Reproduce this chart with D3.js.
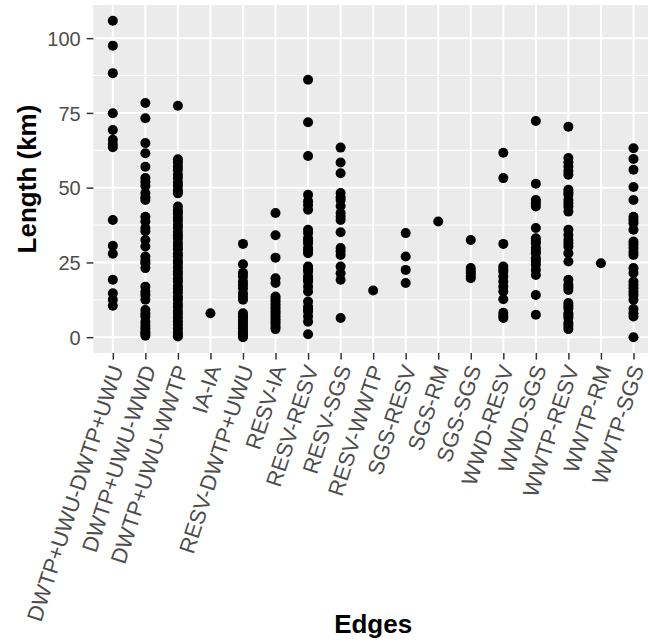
<!DOCTYPE html>
<html>
<head>
<meta charset="utf-8">
<script src="https://cdn.jsdelivr.net/npm/d3@7"></script>
<style>
  body { margin: 0; background: #fff; }
  svg { display: block; }
</style>
</head>
<body>
<div id="strip-chart"></div>
<script>
// Edge categories along the x axis
const edges = [
  "DWTP+UWU-DWTP+UWU", "DWTP+UWU-WWD", "DWTP+UWU-WWTP", "IA-IA",
  "RESV-DWTP+UWU", "RESV-IA", "RESV-RESV", "RESV-SGS", "RESV-WWTP",
  "SGS-RESV", "SGS-RM", "SGS-SGS", "WWD-RESV", "WWD-SGS",
  "WWTP-RESV", "WWTP-RM", "WWTP-SGS",
];

// Lengths (km), one array per edge
const dwtpUwuToDwtpUwu = [105.8, 97.5, 88.3, 74.9, 69.3, 66, 64.6, 63.5, 39.2, 30.6, 27.9, 19.2, 14.7, 12.5, 10.5];
const dwtpUwuToWwd = [78.3, 73.2, 64.9, 61.5, 57, 53.2, 52, 50.6, 48.2, 46.8, 45.9, 40.3, 38.7, 36.5, 35.4, 32.5, 30.3, 27, 25.6, 24.7, 23.1, 16.9, 15.2, 14.1, 12.5, 9.1, 7.8, 6.9, 5.2, 4.1, 3, 1.9, 1.3, 0.5];
const dwtpUwuToWwtp = [77.4, 59.5, 58.4, 57.1, 55.9, 54.3, 53.2, 51.7, 50.6, 49.1, 48.1, 43.7, 42.4, 41.4, 40, 38.9, 37.6, 36.6, 35.2, 34.1, 33, 31.6, 30.5, 29.4, 28, 27, 25.6, 24.6, 23.3, 22, 21, 19.6, 18.6, 17.2, 16.1, 15, 13.6, 12.6, 11.2, 10.2, 8.8, 7.8, 6.6, 5.3, 4.2, 3, 1.8, 0.7, 0.2];
const iaToIa = [8];
const resvToDwtpUwu = [31.2, 24.4, 21.5, 20.3, 18.6, 17.5, 16.4, 14.7, 13.5, 12.5, 8, 7, 6.4, 5.5, 4.7, 3.8, 3, 2, 1.3, 0.5, 0];
const resvToIa = [41.5, 34.1, 26.6, 19.7, 18.1, 13.6, 12.8, 11.9, 11, 10.2, 9.4, 8.6, 7.8, 6.9, 6, 5.2, 4.4, 3.5, 2.7];
const resvToResv = [86.1, 71.9, 60.6, 47.6, 45.5, 44.2, 42.6, 35.9, 34.8, 33.1, 32.2, 31.4, 29.8, 28.9, 28.1, 23.6, 22.7, 21.9, 20.3, 19.4, 18.6, 16.9, 15.3, 11.9, 10.2, 9.4, 8.6, 6.9, 5.2, 1];
const resvToSgs = [63.4, 58.4, 54.8, 48.2, 46.8, 45.9, 43.9, 41.5, 40.3, 39.2, 35.1, 29.8, 28.7, 27.5, 23.6, 21.4, 19.2, 6.4];
const resvToWwtp = [15.6];
const sgsToResv = [34.8, 27, 22.5, 18.1];
const sgsToRm = [38.7];
const sgsToSgs = [32.5, 23.1, 22.2, 21.4, 20.5, 19.7];
const wwdToResv = [61.7, 53.2, 31.2, 23.6, 22.7, 21.9, 20.3, 18.6, 16.9, 15.3, 12.7, 8.2, 7.2, 6.4];
const wwdToSgs = [72.3, 51.3, 45.9, 44.8, 43.7, 36.5, 33.1, 32.2, 31.4, 29.8, 28.9, 28.1, 26.4, 25.3, 24.2, 22.5, 20.8, 14.1, 7.5];
const wwtpToResv = [70.4, 59.9, 58.5, 57, 55.6, 54.3, 49.3, 48.4, 47.6, 45.9, 44.8, 43.7, 42, 35.9, 34.2, 32.5, 31.4, 30.3, 28.1, 25.3, 19.2, 17.5, 16.7, 15.8, 11.4, 10.5, 9.7, 8, 7.2, 6.4, 4.7, 3.7, 2.7];
const wwtpToRm = [24.7];
const wwtpToSgs = [63.2, 59.6, 56, 50.2, 45.9, 40.3, 39.2, 38.1, 35.9, 32, 31, 29.8, 28.6, 27.5, 23.1, 21.5, 18.6, 17.5, 16.4, 15.2, 14.1, 12.5, 9.4, 8, 6.9, 0];

// Y axis tick values
const lengthTicks = [0, 25, 50, 75, 100];

const lengthsByEdge = [
  dwtpUwuToDwtpUwu, dwtpUwuToWwd, dwtpUwuToWwtp, iaToIa,
  resvToDwtpUwu, resvToIa, resvToResv, resvToSgs, resvToWwtp,
  sgsToResv, sgsToRm, sgsToSgs, wwdToResv, wwdToSgs,
  wwtpToResv, wwtpToRm, wwtpToSgs,
];

// Flatten into one row per point
const points = [];
lengthsByEdge.forEach((values, i) => {
  values.forEach((v) => points.push({ edge: edges[i], length: v }));
});

const width = 648;
const height = 644;
const panel = { left: 93.3, right: 653, top: 5, bottom: 353 };
const fontFamily = "'Liberation Sans', Arial, Helvetica, sans-serif";

const svg = d3
  .select("#strip-chart")
  .append("svg")
  .attr("width", width)
  .attr("height", height);

// ggplot-like discrete scale with 0.6 expansion on each side
const x = d3
  .scalePoint()
  .domain(edges)
  .range([panel.left, panel.right])
  .padding(0.6);

// continuous scale expanded 5% around the data
const [lo, hi] = d3.extent(points, (d) => d.length);
const pad = (hi - lo) * 0.05;
const y = d3
  .scaleLinear()
  .domain([lo - pad, hi + pad])
  .range([panel.bottom, panel.top]);

// Panel background
svg
  .append("rect")
  .attr("x", panel.left)
  .attr("y", panel.top)
  .attr("width", panel.right - panel.left)
  .attr("height", panel.bottom - panel.top)
  .style("fill", "#EBEBEB");

// Minor horizontal grid lines (midway between major ticks)
const minorTicks = lengthTicks.slice(0, -1).map((t, i) => (t + lengthTicks[i + 1]) / 2);
minorTicks.push(lengthTicks[lengthTicks.length - 1] + 12.5);
svg
  .append("g")
  .selectAll("line")
  .data(minorTicks.filter((t) => t < y.domain()[1]))
  .join("line")
  .attr("x1", panel.left)
  .attr("x2", panel.right)
  .attr("y1", (d) => y(d))
  .attr("y2", (d) => y(d))
  .style("stroke", "#fff")
  .style("stroke-width", 1);

// Major horizontal grid lines
svg
  .append("g")
  .selectAll("line")
  .data(lengthTicks)
  .join("line")
  .attr("x1", panel.left)
  .attr("x2", panel.right)
  .attr("y1", (d) => y(d))
  .attr("y2", (d) => y(d))
  .style("stroke", "#fff")
  .style("stroke-width", 2);

// Vertical grid lines at each edge
svg
  .append("g")
  .selectAll("line")
  .data(edges)
  .join("line")
  .attr("x1", (d) => x(d))
  .attr("x2", (d) => x(d))
  .attr("y1", panel.top)
  .attr("y2", panel.bottom)
  .style("stroke", "#fff")
  .style("stroke-width", 2);

// Points
svg
  .append("g")
  .selectAll("circle")
  .data(points)
  .join("circle")
  .attr("cx", (d) => x(d.edge))
  .attr("cy", (d) => y(d.length))
  .attr("r", 5)
  .style("fill", "#000");

// Y axis
const yAxis = svg
  .append("g")
  .attr("transform", `translate(${panel.left},0)`)
  .call(d3.axisLeft(y).tickValues(lengthTicks).tickSize(6.6).tickPadding(6));
yAxis.select(".domain").remove();
yAxis.selectAll(".tick line").style("stroke", "#333").style("stroke-width", 1.5);
yAxis
  .selectAll(".tick text")
  .style("font-family", fontFamily)
  .style("font-size", "20px")
  .style("fill", "#4D4D4D")
  .attr("dy", "0.36em");

// X axis
const xAxis = svg
  .append("g")
  .attr("transform", `translate(0,${panel.bottom})`)
  .call(d3.axisBottom(x).tickSize(6.6));
xAxis.select(".domain").remove();
xAxis.selectAll(".tick line").style("stroke", "#333").style("stroke-width", 1.5);
xAxis
  .selectAll(".tick text")
  .style("font-family", fontFamily)
  .style("font-size", "22px")
  .style("fill", "#4D4D4D")
  .attr("text-anchor", "end")
  .attr("x", 0)
  .attr("y", 0)
  .attr("dy", "0.35em")
  .attr("transform", "translate(3,13) rotate(-72)");

// Axis titles
svg
  .append("text")
  .attr("transform", `translate(36,${(panel.top + panel.bottom) / 2}) rotate(-90)`)
  .attr("text-anchor", "middle")
  .style("font-family", fontFamily)
  .style("font-size", "26px")
  .style("font-weight", "bold")
  .text("Length (km)");

svg
  .append("text")
  .attr("x", (panel.left + panel.right) / 2)
  .attr("y", 633)
  .attr("text-anchor", "middle")
  .style("font-family", fontFamily)
  .style("font-size", "26px")
  .style("font-weight", "bold")
  .text("Edges");
</script>
</body>
</html>
